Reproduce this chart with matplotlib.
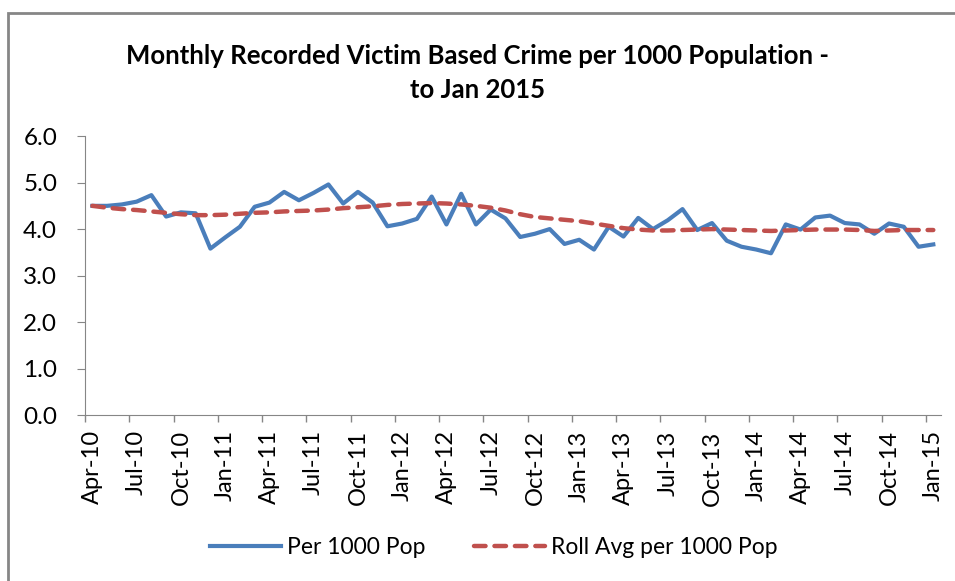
import numpy as np
import matplotlib
matplotlib.use("Agg")
import matplotlib.pyplot as plt
from matplotlib.patches import Rectangle

# monthly series, Apr-10 .. Jan-15
months = ["Apr", "May", "Jun", "Jul", "Aug", "Sep", "Oct", "Nov", "Dec", "Jan", "Feb", "Mar"]
labels = []
for i in range(58):
    m = months[i % 12]
    yr = 10 + (i + 3) // 12
    labels.append(f"{m}-{yr}")

per_1000 = [4.50, 4.50, 4.53, 4.59, 4.73, 4.27, 4.36, 4.34, 3.58, 3.82,
            4.05, 4.48, 4.57, 4.80, 4.62, 4.78, 4.96, 4.55, 4.80, 4.57,
            4.06, 4.12, 4.22, 4.70, 4.10, 4.76, 4.10, 4.42, 4.23, 3.83,
            3.90, 4.00, 3.68, 3.77, 3.56, 4.05, 3.84, 4.24, 4.00, 4.19,
            4.43, 3.98, 4.13, 3.75, 3.62, 3.56, 3.48, 4.10, 3.99, 4.25,
            4.29, 4.13, 4.10, 3.90, 4.12, 4.05, 3.62, 3.67]

roll_avg = [4.50, 4.46, 4.43, 4.41, 4.38, 4.35, 4.32, 4.30, 4.30, 4.31,
            4.33, 4.35, 4.36, 4.38, 4.39, 4.40, 4.42, 4.45, 4.47, 4.49,
            4.52, 4.54, 4.55, 4.56, 4.55, 4.53, 4.50, 4.46, 4.40, 4.32,
            4.26, 4.23, 4.20, 4.17, 4.12, 4.07, 4.02, 3.99, 3.97, 3.97,
            3.98, 3.99, 4.00, 3.99, 3.98, 3.97, 3.96, 3.97, 3.98, 3.99,
            3.99, 3.99, 3.98, 3.96, 3.97, 3.98, 3.98, 3.98]

title = "Monthly Recorded Victim Based Crime per 1000 Population -\nto Jan 2015"

plt.rcParams['font.family'] = ['Lato', 'DejaVu Sans']

fig = plt.figure(figsize=(9.55, 5.81), dpi=100)
ax = fig.add_axes([0.089, 0.2857, 0.896, 0.480])

x = np.arange(len(per_1000))
ax.plot(x, per_1000, color="#4A7EBB", lw=3, label="Per 1000 Pop", solid_joinstyle="round")
ax.plot(x, roll_avg, color="#C0504D", lw=3.2, ls=(0, (2.6, 2.0)), dash_capstyle="round",
        label="Roll Avg per 1000 Pop")

ax.set_xlim(-0.5, 57.5)
ax.set_ylim(0, 6)
ax.set_yticks(np.arange(0, 6.1, 1.0))
ax.set_yticklabels([f"{v:.1f}" for v in np.arange(0, 6.1, 1.0)])

ax.set_xticks(x[::3])
ax.set_xticklabels(labels[::3], rotation=90)
ax.set_xticks(x[::3] - 0.5, minor=True)
ax.tick_params(axis="x", which="major", length=0, pad=11, labelsize=17)
ax.tick_params(axis="x", which="minor", length=5, color="#868686", width=1)
ax.tick_params(axis="y", length=6, color="#868686", pad=14, labelsize=17.5)

for s in ["top", "right"]:
    ax.spines[s].set_visible(False)
for s in ["left", "bottom"]:
    ax.spines[s].set_color("#868686")

fig.text(0.5, 0.875, title, ha="center", va="center", fontsize=18.5,
         fontweight="bold", linespacing=1.5)

fig.legend(loc="center", bbox_to_anchor=(0.517, 0.057), ncol=2, frameon=False,
           fontsize=16.5, handlelength=3.1, handletextpad=0.26, columnspacing=2.1)

# outer chart border
fig.patches.append(Rectangle((8 / 955, -0.1), 1.1, 1 - 13 / 581 + 0.1,
                             transform=fig.transFigure, fill=False,
                             edgecolor="#868686", lw=2))

fig.savefig("out.png", dpi=100)
